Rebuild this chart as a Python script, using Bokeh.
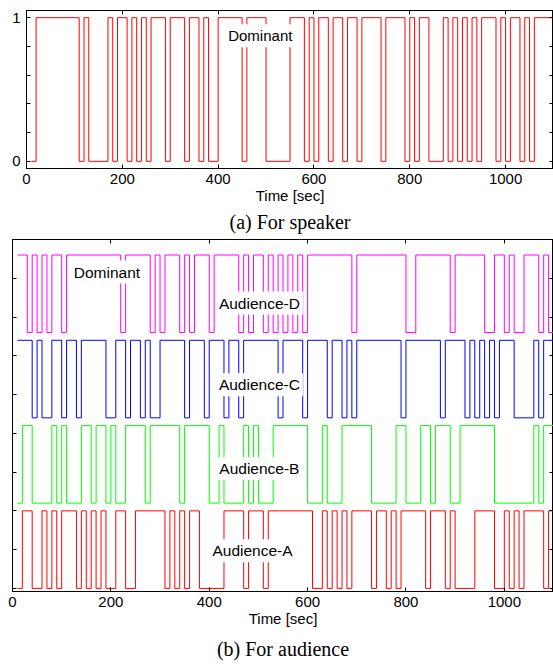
from bokeh.plotting import figure
from bokeh.models import LinearAxis, FixedTicker, Label, Title, Range1d
from bokeh.layouts import column
from bokeh.embed import file_html
from bokeh.resources import INLINE

# ---------------- data ----------------
T_END = 1100
x_ticks = [0, 200, 400, 600, 800, 1000]

# (a) speaker: times where the dominance level changes, and the level after it
speaker_t = [10, 20, 110, 120, 130, 170, 180, 190, 210, 220, 230, 240, 250, 260, 290,
             300, 330, 340, 360, 370, 380, 400, 450, 460, 500, 550, 580, 590, 600, 610,
             630, 640, 660, 670, 690, 700, 740, 750, 790, 800, 810, 820, 840, 870, 880,
             890, 900, 910, 920, 930, 940, 950, 980, 990, 1000, 1010, 1030, 1040, 1050, 1060]
speaker_v = [0, 1, 0, 1, 0, 1, 0, 1, 0, 1, 0, 1, 0, 1, 0,
             1, 0, 1, 0, 1, 0, 1, 0, 1, 0, 1, 0, 1, 0, 1,
             0, 1, 0, 1, 0, 1, 0, 1, 0, 1, 0, 1, 0, 1, 0,
             1, 0, 1, 0, 1, 0, 1, 0, 1, 0, 1, 0, 1, 0, 1]

# (b) audience
aud_d_t = [10, 30, 40, 50, 60, 70, 80, 100, 110, 220, 230, 280, 290, 300, 310, 340, 350,
           360, 370, 400, 410, 460, 470, 480, 490, 510, 520, 530, 540, 550, 560, 570, 580,
           590, 600, 690, 700, 800, 820, 890, 900, 960, 980, 1000, 1010, 1020, 1040, 1070,
           1080, 1090]
aud_d_v = [1, 0, 1, 0, 1, 0, 1, 0, 1, 0, 1, 0, 1, 0, 1, 0, 1,
           0, 1, 0, 1, 0, 1, 0, 1, 0, 1, 0, 1, 0, 1, 0, 1,
           0, 1, 0, 1, 0, 1, 0, 1, 0, 1, 0, 1, 0, 1, 0,
           1, 0]

aud_c_t = [10, 40, 50, 60, 80, 100, 110, 130, 140, 190, 210, 230, 240, 260, 270, 280, 300,
           350, 360, 390, 400, 430, 440, 460, 470, 540, 550, 590, 600, 640, 650, 670, 680,
           690, 700, 790, 800, 870, 880, 920, 930, 940, 950, 960, 970, 980, 990, 1020, 1060,
           1070, 1080]
aud_c_v = [1, 0, 1, 0, 1, 0, 1, 0, 1, 0, 1, 0, 1, 0, 1, 0, 1,
           0, 1, 0, 1, 0, 1, 0, 1, 0, 1, 0, 1, 0, 1, 0, 1,
           0, 1, 0, 1, 0, 1, 0, 1, 0, 1, 0, 1, 0, 1, 0, 1,
           0, 1]

aud_b_t = [10, 20, 40, 80, 90, 100, 110, 140, 160, 170, 190, 200, 210, 230, 270, 280, 340,
           350, 400, 420, 430, 470, 480, 490, 500, 530, 600, 630, 640, 670, 730, 780, 800,
           830, 850, 860, 890, 910, 980, 1060, 1070, 1080]
aud_b_v = [0, 1, 0, 1, 0, 1, 0, 1, 0, 1, 0, 1, 0, 1, 0, 1, 0,
           1, 0, 1, 0, 1, 0, 1, 0, 1, 0, 1, 0, 1, 0, 1, 0,
           1, 0, 1, 0, 1, 0, 1, 0, 1]

aud_a_t = [10, 20, 40, 60, 70, 80, 90, 100, 130, 140, 150, 160, 170, 180, 190, 210, 230,
           250, 310, 320, 330, 340, 350, 360, 380, 430, 470, 480, 510, 520, 610, 630, 640,
           650, 660, 670, 680, 690, 730, 740, 760, 770, 780, 790, 840, 850, 880, 890, 900,
           940, 980, 1000, 1010, 1020, 1030, 1040, 1080, 1090]
aud_a_v = [0, 1, 0, 1, 0, 1, 0, 1, 0, 1, 0, 1, 0, 1, 0, 1, 0,
           1, 0, 1, 0, 1, 0, 1, 0, 1, 0, 1, 0, 1, 0, 1, 0,
           1, 0, 1, 0, 1, 0, 1, 0, 1, 0, 1, 0, 1, 0, 1, 0,
           1, 0, 1, 0, 1, 0, 1, 0, 1]

series_names = ["Audience-A", "Audience-B", "Audience-C", "Audience-D"]
series_t = [aud_a_t, aud_b_t, aud_c_t, aud_d_t]
series_v = [aud_a_v, aud_b_v, aud_c_v, aud_d_v]
series_colors = ["#ff0000", "#00ff00", "#0000ff", "#ff00ff"]
band_offsets = [0.0, 2.2, 4.4, 6.6]
band_height = 2.0

SANS = "Liberation Sans"
SERIF = "Liberation Serif"


def hide_labels(ax):
    ax.major_label_text_font_size = "0px"
    ax.major_label_standoff = 0


def style_axes(p, yticks, ylabel_overrides=None, show_y_labels=True):
    p.grid.visible = False
    p.outline_line_color = "black"
    p.outline_line_width = 1
    p.background_fill_color = "white"
    p.border_fill_color = "white"
    top = LinearAxis()
    right = LinearAxis()
    p.add_layout(top, "above")
    p.add_layout(right, "right")
    for ax in [p.below[0], top]:
        ax.ticker = FixedTicker(ticks=x_ticks)
    for ax in [p.left[0], right]:
        ax.ticker = FixedTicker(ticks=yticks)
    for ax in [p.below[0], top, p.left[0], right]:
        ax.major_tick_in = 4
        ax.major_tick_out = 0
        ax.minor_tick_in = 0
        ax.minor_tick_out = 0
        ax.axis_line_color = "black"
        ax.major_tick_line_color = "black"
        ax.major_label_text_font = SANS
        ax.major_label_text_font_size = "15px"
        ax.major_label_text_color = "black"
    hide_labels(top)
    hide_labels(right)
    if not show_y_labels:
        hide_labels(p.left[0])
    if ylabel_overrides:
        p.left[0].major_label_overrides = ylabel_overrides
        p.left[0].major_label_standoff = 6
    xa = p.below[0]
    xa.major_label_standoff = 5
    xa.axis_label = "Time [sec]"
    xa.axis_label_text_font = SANS
    xa.axis_label_text_font_size = "15px"
    xa.axis_label_text_font_style = "normal"
    xa.axis_label_text_color = "black"
    xa.axis_label_standoff = 0


def step_xy(t, v, base=0.0, scale=1.0):
    xs = list(t) + [T_END]
    ys = [base + scale * lv for lv in v] + [base + scale * v[-1]]
    return xs, ys


# ---------------- panel (a) ----------------
pa = figure(width=553, height=236, x_range=Range1d(0, T_END), y_range=Range1d(-0.05, 1.05),
            output_backend="svg", toolbar_location=None, frame_align=False,
            min_border_left=26, min_border_right=0, min_border_top=10, min_border_bottom=68)
style_axes(pa, [0, 0.2, 0.4, 0.6, 0.8, 1],
           ylabel_overrides={0: "0", 0.2: "", 0.4: "", 0.6: "", 0.8: "", 1: "1"})
xs, ys = step_xy(speaker_t, speaker_v)
pa.step(xs, ys, mode="after", line_color="#ff0000", line_width=1)
pa.add_layout(Label(x=488, y=0.875, text="Dominant", text_align="center",
                    text_baseline="middle", text_font=SANS, text_font_size="15px",
                    text_color="black", background_fill_color="white", padding=3))
pa.add_layout(Title(text="(a) For speaker", align="center", text_font=SERIF,
                    text_font_size="20px", text_font_style="normal",
                    text_color="black", standoff=5), "below")

# ---------------- panel (b) ----------------
pb = figure(width=553, height=430, x_range=Range1d(0, T_END), y_range=Range1d(-0.08, 9.0),
            output_backend="svg", toolbar_location=None, frame_align=False,
            min_border_left=12, min_border_right=0, min_border_top=3, min_border_bottom=75)
style_axes(pb, list(range(0, 10)), show_y_labels=False)
for t, v, c, off in zip(series_t, series_v, series_colors, band_offsets):
    xs, ys = step_xy(t, v, base=off, scale=band_height)
    pb.step(xs, ys, mode="after", line_color=c, line_width=1)

label_pos = [(488, 0.97), (502, 3.09), (502, 5.25), (502, 7.36)]
for name, (lx, ly) in zip(series_names, label_pos):
    pb.add_layout(Label(x=lx, y=ly, text=name, text_align="center", text_baseline="middle",
                        text_font=SANS, text_font_size="15.5px", text_color="black",
                        background_fill_color="white", padding=3))
pb.add_layout(Label(x=192, y=8.16, text="Dominant", text_align="center",
                    text_baseline="middle", text_font=SANS, text_font_size="15.5px",
                    text_color="black", background_fill_color="white", padding=3))
pb.add_layout(Title(text="(b) For audience", align="center", text_font=SERIF,
                    text_font_size="20px", text_font_style="normal",
                    text_color="black", standoff=12), "below")

layout = column(pa, pb, spacing=0)
open("out.html", "w").write(file_html(layout, INLINE))
